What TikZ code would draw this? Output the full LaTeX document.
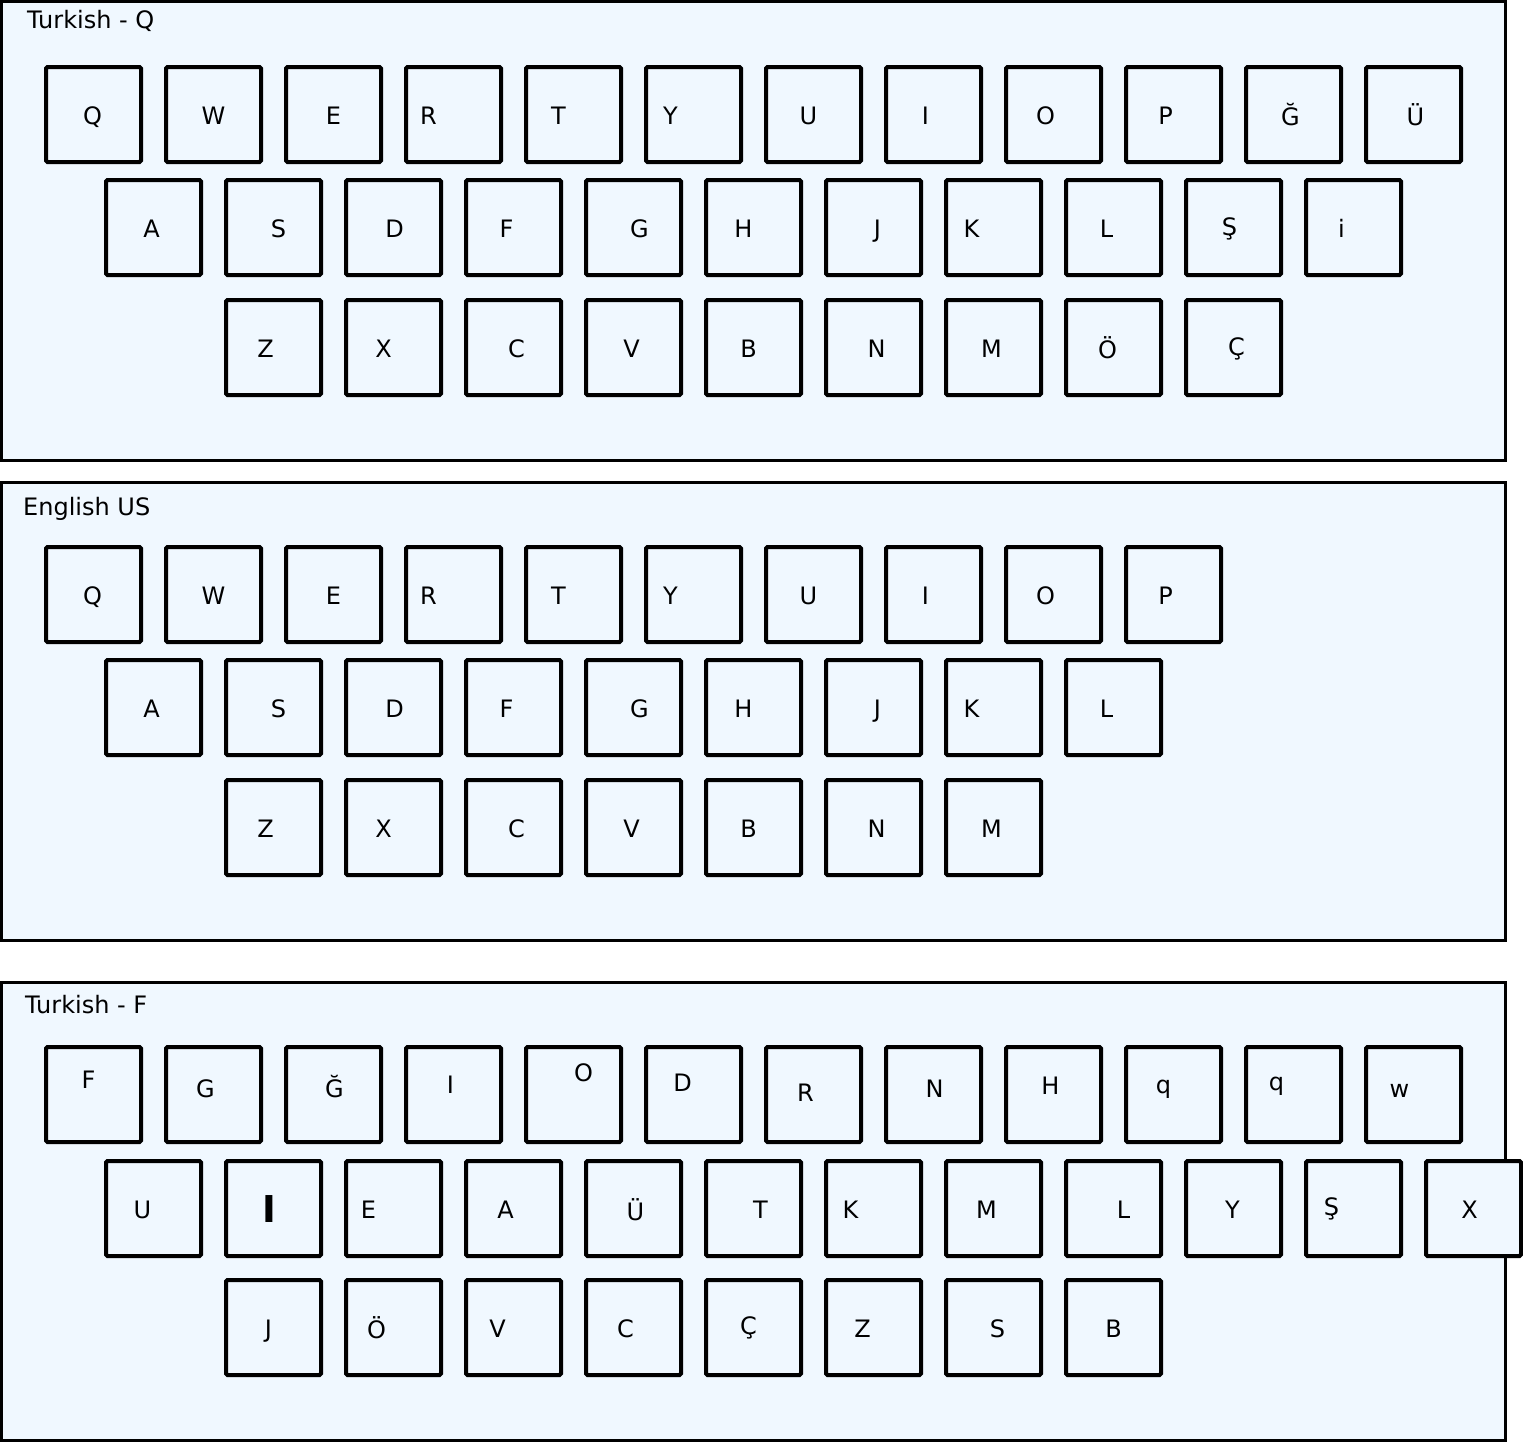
\documentclass[tikz,border=0pt]{standalone}
\usepackage{fontspec}
\setmainfont{DejaVu Sans}
\usetikzlibrary{positioning}

\definecolor{keyfill}{HTML}{F0F8FF}
\newcommand{\keyfont}{\fontsize{24}{28}\selectfont}
\newcommand{\fatI}{{\bfseries\fontsize{37}{40}\selectfont I}}

\tikzset{
    panel/.style={draw, line width=3pt, fill=keyfill},
    key/.style={draw, line width=4pt, rounded corners=1.5pt, fill=keyfill,
        minimum size=95pt, inner sep=0pt},
    keytext/.style={anchor=base, inner sep=0pt, font=\keyfont},
    paneltitle/.style={anchor=base west, inner sep=0pt, font=\keyfont}
}

\begin{document}
\begin{tikzpicture}[x=1pt,y=-1pt]
            \useasboundingbox (0,0) rectangle (1523,1443);
            % Turkish - Q
            \draw[panel] (1.5,1.5) rectangle (1505.5,460.5);
            \node[paneltitle] (tq) at (27,28.5) {Turkish - Q};
            \foreach \l/\dx/\dy [count=\t] in {Q/-1/0,W/0/0,E/0/0,R/-25/0,T/-15/0,Y/-23/0,U/-5/0,I/-8/0,O/-8/0,P/-8/0,Ğ/-3/1,Ü/2/1}{%
                    \node[key] (tq1-\t) at (93.5+120*\t-120,114.5) {};
                    \node[keytext] (tq1-\t-l) at (93.5+120*\t-120+\dx,124.5+\dy) {\l};
                }
            \foreach \l/\dx/\dy [count=\t] in {A/-2/0,S/5/0,D/1/0,F/-7/0,G/6/0,H/-10/0,J/4/0,K/-22/0,L/-7/0,Ş/-4/-2,i/-12/0}{%
                    \node[key] (tq2-\t) at (153.5+120*\t-120,227.5) {};
                    \node[keytext] (tq2-\t-l) at (153.5+120*\t-120+\dx,237.5+\dy) {\l};
                }
            \foreach \l/\dx/\dy [count=\t] in {Z/-8/0,X/-10/0,C/3/0,V/-2/0,B/-5/0,N/3/0,M/-2/0,Ö/-6/1,Ç/3/-2}{%
                    \node[key] (tq3-\t) at (273.5+120*\t-120,347.5) {};
                    \node[keytext] (tq3-\t-l) at (273.5+120*\t-120+\dx,357.5+\dy) {\l};
                }
            % English US
            \draw[panel] (1.5,482.5) rectangle (1505.5,940.5);
            \node[paneltitle] (us) at (23,515.5) {English US};
            \foreach \l/\dx/\dy [count=\t] in {Q/-1/0,W/0/0,E/0/0,R/-25/0,T/-15/0,Y/-23/0,U/-5/0,I/-8/0,O/-8/0,P/-8/0}{%
                    \node[key] (us1-\t) at (93.5+120*\t-120,594.5) {};
                    \node[keytext] (us1-\t-l) at (93.5+120*\t-120+\dx,604.5+\dy) {\l};
                }
            \foreach \l/\dx/\dy [count=\t] in {A/-2/0,S/5/0,D/1/0,F/-7/0,G/6/0,H/-10/0,J/4/0,K/-22/0,L/-7/0}{%
                    \node[key] (us2-\t) at (153.5+120*\t-120,707.5) {};
                    \node[keytext] (us2-\t-l) at (153.5+120*\t-120+\dx,717.5+\dy) {\l};
                }
            \foreach \l/\dx/\dy [count=\t] in {Z/-8/0,X/-10/0,C/3/0,V/-2/0,B/-5/0,N/3/0,M/-2/0}{%
                    \node[key] (us3-\t) at (273.5+120*\t-120,827.5) {};
                    \node[keytext] (us3-\t-l) at (273.5+120*\t-120+\dx,837.5+\dy) {\l};
                }
            % Turkish - F
            \draw[panel] (1.5,982.5) rectangle (1505.5,1440.5);
            \node[paneltitle] (tf) at (25,1013.5) {Turkish - F};
            \foreach \l/\dx/\dy [count=\t] in {F/-5/-16,G/-8/-7,Ğ/1/-7,I/-3/-11,O/10/-23,D/-11/-13,R/-8/-3,N/1/-7,H/-3/-10,q/-10/-11,q/-17/-14,w/-14/-7}{%
                    \node[key] (tf1-\t) at (93.5+120*\t-120,1094.5) {};
                    \node[keytext] (tf1-\t-l) at (93.5+120*\t-120+\dx,1104+\dy) {\l};
                }
            \foreach \l/\dx/\dy [count=\t] in {U/-11/0,\fatI/-4/4,E/-25/0,A/-8/0,Ü/2/2,T/7/0,K/-23/0,M/-7/0,L/10/0,Y/-1/0,Ş/-22/-3,X/-4/0}{%
                    \node[key] (tf2-\t) at (153.5+120*\t-120,1208.5) {};
                    \node[keytext] (tf2-\t-l) at (153.5+120*\t-120+\dx,1218+\dy) {\l};
                }
            \foreach \l/\dx/\dy [count=\t] in {J/-5/0,Ö/-17/1,V/-16/0,C/-8/0,Ç/-5/-3,Z/-11/0,S/4/0,B/0/0}{%
                    \node[key] (tf3-\t) at (273.5+120*\t-120,1327.5) {};
                    \node[keytext] (tf3-\t-l) at (273.5+120*\t-120+\dx,1337+\dy) {\l};
                }
        \end{tikzpicture}
\end{document}
